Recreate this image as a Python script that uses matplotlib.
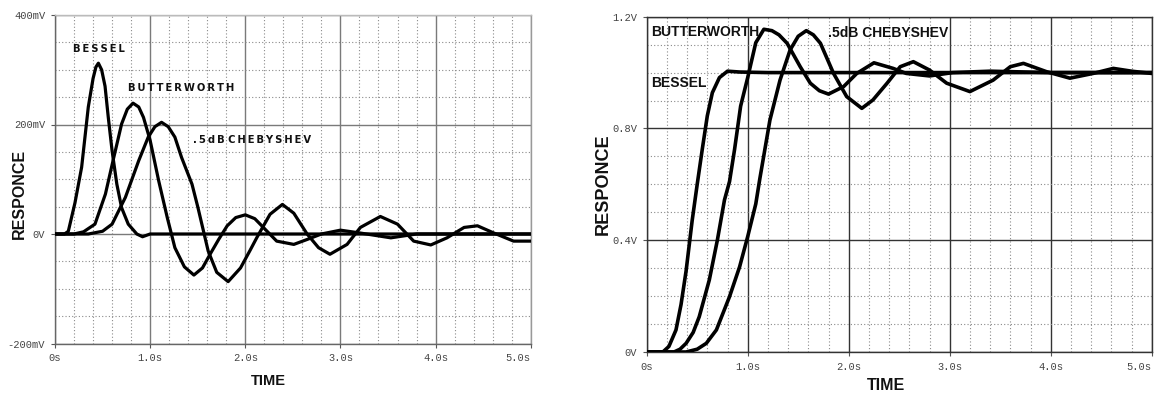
import matplotlib
matplotlib.use("Agg")
import matplotlib.pyplot as plt
from matplotlib.ticker import MultipleLocator, FixedLocator

# ---------------- data ----------------
# Left panel: impulse response (mV) vs time (s)
bessel_imp_t = [0, 0.10, 0.14, 0.21, 0.28, 0.35, 0.40, 0.43, 0.456, 0.49, 0.526, 0.56,
                0.60, 0.65, 0.70, 0.77, 0.86, 0.92, 1.0, 5.0]
bessel_imp_v = [0, 0, 5, 57, 122, 232, 284, 305, 312, 300, 270, 213,
                152, 91, 48, 18, 0, -5, 0, 0]

butter_imp_t = [0, 0.20, 0.30, 0.42, 0.53, 0.61, 0.70, 0.76, 0.82, 0.88, 0.93, 1.0,
                1.09, 1.18, 1.26, 1.36, 1.46, 1.55, 1.63, 1.72, 1.81, 1.90, 2.0,
                2.10, 2.19, 2.33, 2.51, 2.65, 2.80, 3.0, 3.2, 3.53, 3.8, 4.2, 5.0]
butter_imp_v = [0, 0, 4, 18, 73, 134, 201, 228, 239, 232, 213, 171,
                97, 30, -25, -60, -75, -62, -37, -10, 15, 30, 35,
                28, 12, -13, -19, -10, 0, 7, 2, -7, 0, 0, 0]

cheby_imp_t = [0, 0.35, 0.50, 0.60, 0.74, 0.88, 0.98, 1.05, 1.12, 1.19, 1.26, 1.33,
               1.44, 1.50, 1.61, 1.70, 1.82, 1.95, 2.05, 2.12, 2.26, 2.39, 2.51,
               2.65, 2.77, 2.89, 3.07, 3.21, 3.42, 3.60, 3.77, 3.95, 4.12, 4.30,
               4.44, 4.61, 4.82, 5.0]
cheby_imp_v = [0, 0, 5, 18, 67, 134, 177, 196, 204, 196, 177, 140,
               91, 50, -31, -70, -87, -62, -30, -7, 36, 54, 38,
               0, -25, -37, -19, 12, 32, 18, -13, -20, -7, 12,
               15, 2, -13, -13]

# Right panel: step response (V) vs time (s)
bessel_step_t = [0, 0.16, 0.22, 0.29, 0.34, 0.39, 0.45, 0.50, 0.55, 0.60, 0.65, 0.72,
                 0.80, 0.92, 1.2, 5.0]
bessel_step_v = [0, 0, 0.02, 0.079, 0.17, 0.29, 0.47, 0.60, 0.725, 0.845, 0.928, 0.982,
                 1.005, 1.002, 1.0, 1.0]

butter_step_t = [0, 0.27, 0.33, 0.39, 0.46, 0.52, 0.62, 0.70, 0.77, 0.82, 0.87, 0.93,
                 1.0, 1.08, 1.16, 1.24, 1.31, 1.39, 1.52, 1.62, 1.71, 1.80, 1.95,
                 2.08, 2.25, 2.44, 2.57, 2.80, 3.03, 3.4, 4.0, 5.0]
butter_step_v = [0, 0, 0.01, 0.031, 0.07, 0.126, 0.258, 0.401, 0.544, 0.61, 0.725, 0.88,
                 0.982, 1.107, 1.155, 1.15, 1.135, 1.105, 1.021, 0.962, 0.935, 0.923, 0.95,
                 0.997, 1.035, 1.015, 0.997, 0.988, 1.0, 1.005, 1.0, 1.0]

cheby_step_t = [0, 0.39, 0.50, 0.59, 0.69, 0.82, 0.92, 1.0, 1.08, 1.12, 1.22, 1.32,
                1.42, 1.50, 1.58, 1.65, 1.72, 1.85, 1.98, 2.13, 2.24, 2.38, 2.51,
                2.64, 2.80, 2.97, 3.20, 3.43, 3.60, 3.73, 3.96, 4.19, 4.42, 4.62,
                4.8, 5.0]
cheby_step_v = [0, 0, 0.01, 0.031, 0.079, 0.198, 0.305, 0.413, 0.53, 0.62, 0.83, 0.973,
                1.081, 1.13, 1.15, 1.135, 1.105, 0.997, 0.914, 0.872, 0.902, 0.962, 1.021,
                1.039, 1.009, 0.962, 0.932, 0.973, 1.021, 1.033, 1.003, 0.98, 0.997, 1.015,
                1.005, 0.997]

x_ticks = [0, 1, 2, 3, 4, 5]
x_tick_labels = ["0s", "1.0s", "2.0s", "3.0s", "4.0s", "5.0s"]
left_y_ticks = [-200, 0, 200, 400]
left_y_labels = ["-200mV", "0V", "200mV", "400mV"]
right_y_ticks = [0, 0.4, 0.8, 1.2]
right_y_labels = ["0V", "0.4V", "0.8V", "1.2V"]

# ---------------- figure ----------------
W, H = 1157, 394
fig = plt.figure(figsize=(W / 100, H / 100), dpi=100)
fig.patch.set_facecolor("white")


def box(x0, y0, x1, y1):
    return [x0 / W, 1 - y1 / H, (x1 - x0) / W, (y1 - y0) / H]


axL = fig.add_axes(box(55, 15, 530.7, 343.5))
axR = fig.add_axes(box(646.7, 16.7, 1151.7, 352))

tick_font = dict(family="Liberation Mono", size=7.5, color="#444444")


def style(ax, major_col, spine_col, xmaj, ymaj, ymin):
    ax.set_xlim(0, 5)
    ax.xaxis.set_major_locator(FixedLocator(xmaj))
    ax.xaxis.set_minor_locator(MultipleLocator(0.2))
    ax.yaxis.set_minor_locator(MultipleLocator(ymin))
    ax.grid(which="major", color=major_col, lw=1.0, ls="-", zorder=0)
    ax.grid(which="minor", color="#8a8a8a", lw=0.8, ls=(0, (1, 2)), zorder=0)
    ax.tick_params(which="minor", length=0)
    ax.tick_params(which="major", length=3, width=0.8, color="#555555", direction="out", pad=4)
    for s in ax.spines.values():
        s.set_color(spine_col)
        s.set_linewidth(1.0)
    ax.set_axisbelow(True)


style(axL, "#7a7a7a", "#666666", x_ticks, left_y_ticks, 50)
axL.set_ylim(-200, 400)
axL.yaxis.set_major_locator(FixedLocator(left_y_ticks))
axL.set_yticklabels(left_y_labels, fontdict=tick_font)
axL.set_xticklabels(x_tick_labels, fontdict=tick_font)
axL.spines["top"].set_color("#bbbbbb")
axL.spines["right"].set_color("#999999")

style(axR, "#333333", "#333333", x_ticks, right_y_ticks, 0.1)
axR.set_ylim(0, 1.2)
axR.yaxis.set_major_locator(FixedLocator(right_y_ticks))
axR.set_yticklabels(right_y_labels, fontdict=tick_font)
axR.set_xticklabels(x_tick_labels, fontdict=tick_font)

for ax in (axL, axR):
    ax.get_xticklabels()[-1].set_horizontalalignment("right")

lw = 2.3
axL.plot(bessel_imp_t, bessel_imp_v, color="black", lw=lw, zorder=3, solid_joinstyle="round")
axL.plot(butter_imp_t, butter_imp_v, color="black", lw=lw, zorder=3, solid_joinstyle="round")
axL.plot(cheby_imp_t, cheby_imp_v, color="black", lw=lw, zorder=3, solid_joinstyle="round")

axR.plot(bessel_step_t, bessel_step_v, color="black", lw=2.6, zorder=3, solid_joinstyle="round")
axR.plot(butter_step_t, butter_step_v, color="black", lw=2.6, zorder=3, solid_joinstyle="round")
axR.plot(cheby_step_t, cheby_step_v, color="black", lw=2.6, zorder=3, solid_joinstyle="round")

# curve labels
ts = "\u2009"
lab_small = dict(family="DejaVu Sans", weight="bold", size=7.2, color="#111111", va="center", ha="left")
axL.text(0.19, 338, ts.join("BESSEL"), **lab_small)
axL.text(0.77, 266, ts.join("BUTTERWORTH"), **lab_small)
axL.text(1.45, 171, ts.join(".5dB") + " " + ts.join("CHEBYSHEV"), **lab_small)

lab_big = dict(family="Liberation Sans", weight="bold", size=10, color="#111111", va="center", ha="left")
axR.text(0.04, 1.145, "BUTTERWORTH", **lab_big)
axR.text(1.80, 1.142, ".5dB CHEBYSHEV", **lab_big)
axR.text(0.04, 0.963, "BESSEL", **lab_big)

# axis titles
axis_font = dict(family="Liberation Sans", weight="bold", color="#111111", ha="center", va="center")
fig.text(19 / W, 1 - 194 / H, "RESPONCE", rotation=90, size=11.5, **axis_font)
fig.text(268 / W, 1 - 381 / H, "TIME", size=10.5, **axis_font)
fig.text(603 / W, 1 - 184 / H, "RESPONCE", rotation=90, size=13, **axis_font)
fig.text(886 / W, 1 - 385 / H, "TIME", size=11.5, **axis_font)

fig.savefig("out.png", dpi=100, facecolor="white")
